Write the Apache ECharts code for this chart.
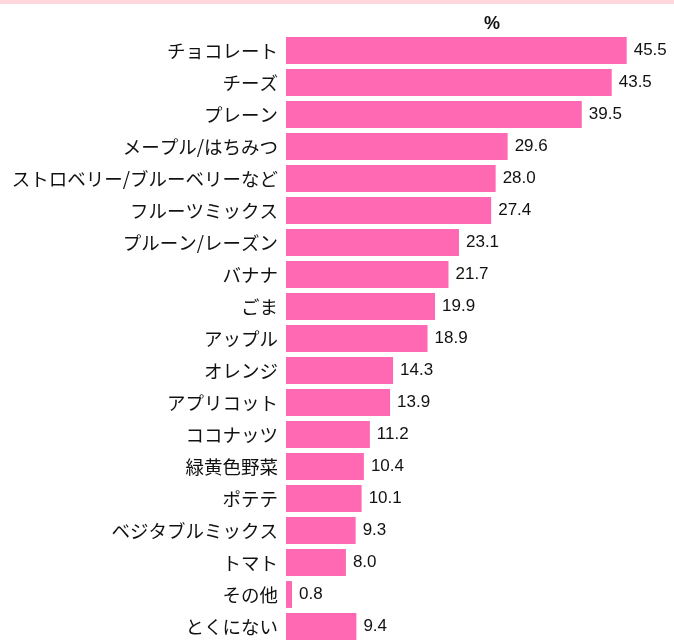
<!DOCTYPE html>
<html>
<head>
<meta charset="utf-8">
<script src="https://cdn.jsdelivr.net/npm/echarts@6/dist/echarts.min.js"></script>
<style>
  html, body { margin: 0; padding: 0; background: #fff; }
  #chart { width: 674px; height: 644px; }
</style>
</head>
<body>
<div id="chart"></div>
<script>
// 項目名（上から順）
var categories = [
  "チョコレート", "チーズ", "プレーン", "メープル/はちみつ",
  "ストロベリー/ブルーベリーなど", "フルーツミックス", "プルーン/レーズン",
  "バナナ", "ごま", "アップル", "オレンジ", "アプリコット", "ココナッツ",
  "緑黄色野菜", "ポテテ", "ベジタブルミックス", "トマト", "その他", "とくにない"
];
// %
var values = [45.5, 43.5, 39.5, 29.6, 28.0, 27.4, 23.1, 21.7, 19.9, 18.9,
  14.3, 13.9, 11.2, 10.4, 10.1, 9.3, 8.0, 0.8, 9.4];

var jpFont = '"Noto Sans CJK JP", sans-serif';
var numFont = '"Liberation Sans", Arial, sans-serif';

var myChart = echarts.init(document.getElementById("chart"));
var option = {
  animation: false,
  title: {
    text: "%",
    left: 487,
    top: 10,
    textAlign: "center",
    textStyle: { fontFamily: numFont, fontSize: 18, fontWeight: "bold", color: "#111" }
  },
  graphic: [
    { type: "rect", left: 0, top: 0, shape: { width: 674, height: 4 }, style: { fill: "#ffd6dc" } }
  ],
  grid: { left: 286, right: 13.6, top: 34.5, bottom: 1.5, containLabel: false },
  xAxis: {
    type: "value",
    min: 0,
    max: 50,
    show: false
  },
  yAxis: {
    type: "category",
    inverse: true,
    data: categories,
    axisLine: { show: false },
    axisTick: { show: false },
    axisLabel: {
      margin: 8,
      fontFamily: jpFont,
      fontSize: 18.5,
      color: "#111"
    }
  },
  series: [
    {
      type: "bar",
      data: values,
      barCategoryGap: "16%",
      itemStyle: { color: "#ff69b4" },
      label: {
        show: true,
        position: "right",
        distance: 7,
        fontFamily: numFont,
        fontSize: 17,
        color: "#111",
        formatter: function (p) { return p.value.toFixed(1); }
      }
    }
  ]
};
myChart.setOption(option);
</script>
</body>
</html>
